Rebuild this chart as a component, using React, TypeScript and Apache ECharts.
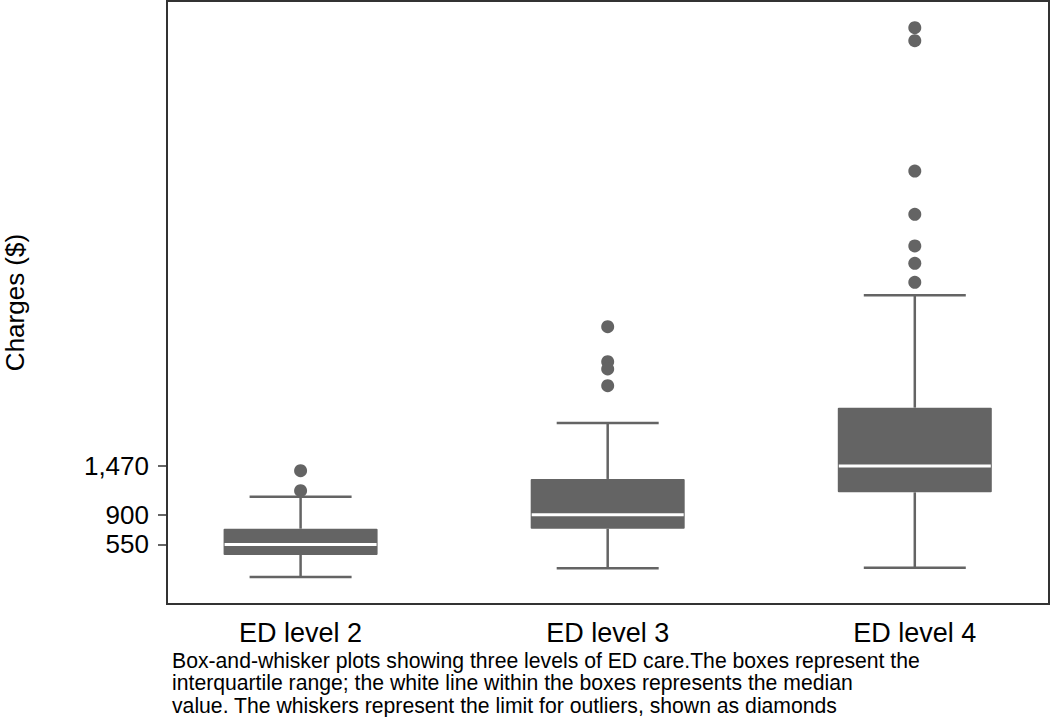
import React, { useEffect, useRef } from "react";
import * as echarts from "echarts";

const categories = ["ED level 2", "ED level 3", "ED level 4"];
const lowerWhisker = [168, 270, 277];
const q1 = [427, 735, 1162];
const median = [550, 900, 1470];
const q3 = [735, 1319, 2156];
const upperWhisker = [1111, 1976, 3475];
const outliers2 = [1416, 1181];
const outliers3 = [3106, 2695, 2610, 2414];
const outliers4 = [6617, 6464, 4934, 4426, 4054, 3851, 3628];
const yTickValues = [550, 900, 1470];
const yAxisTitle = "Charges ($)";
const captionLines = [
  "Box-and-whisker plots showing three levels of ED care.The boxes represent the",
  "interquartile range; the white line within the boxes represents the median",
  "value. The whiskers represent the limit for outliers, shown as diamonds",
];

const FONT = "'Liberation Sans', Arial, Helvetica, sans-serif";
const GRAY = "#646464";

export default function App() {
  const ref = useRef<HTMLDivElement>(null);

  useEffect(() => {
    if (!ref.current) return;
    const chart = echarts.init(ref.current, null, { renderer: "svg" });

    const boxData = categories.map((_, i) => [
      i,
      lowerWhisker[i],
      q1[i],
      median[i],
      q3[i],
      upperWhisker[i],
    ]);
    const outlierData: number[][] = [];
    [outliers2, outliers3, outliers4].forEach((arr, i) =>
      arr.forEach((v) => outlierData.push([i, v]))
    );

    const BOX_HALF = 77;
    const CAP_HALF = 51;

    const option: any = {
      animation: false,
      backgroundColor: "#ffffff",
      textStyle: { fontFamily: FONT },
      grid: {
        left: 167,
        right: 1,
        top: 1,
        bottom: 113,
        show: true,
        borderColor: "#333333",
        borderWidth: 2,
        backgroundColor: "transparent",
        containLabel: false,
        outerBoundsMode: "none",
      },
      xAxis: {
        type: "value",
        min: -0.435,
        max: 2.437,
        axisLine: { show: false, onZero: false },
        axisTick: { show: false },
        splitLine: { show: false },
        axisLabel: {
          customValues: [0, 1, 2],
          formatter: (v: number) => categories[Math.round(v)] ?? "",
          fontSize: 27,
          color: "#000",
          fontFamily: FONT,
          margin: 15,
        },
      },
      yAxis: {
        type: "value",
        min: -149,
        max: 6930,
        name: yAxisTitle,
        nameLocation: "middle",
        nameGap: 140,
        nameRotate: 90,
        nameTextStyle: { fontSize: 26, lineHeight: 24, color: "#000", fontFamily: FONT },
        axisLine: { show: false, onZero: false },
        splitLine: { show: false },
        axisTick: {
          show: true,
          customValues: yTickValues,
          length: 9,
          lineStyle: { color: "#333", width: 1.5 },
        },
        axisLabel: {
          customValues: yTickValues,
          formatter: (v: number) => v.toLocaleString("en-US"),
          fontSize: 26,
          color: "#000",
          fontFamily: FONT,
          margin: 18,
        },
      },
      series: [
        {
          type: "custom",
          data: boxData,
          encode: { x: 0, y: [1, 2, 3, 4, 5] },
          renderItem: (params: any, api: any) => {
            const x = api.value(0);
            const pLow = api.coord([x, api.value(1)]);
            const pQ1 = api.coord([x, api.value(2)]);
            const pMed = api.coord([x, api.value(3)]);
            const pQ3 = api.coord([x, api.value(4)]);
            const pHigh = api.coord([x, api.value(5)]);
            const cx = pLow[0];
            const lineStyle = { stroke: GRAY, lineWidth: 2.5 };
            return {
              type: "group",
              children: [
                {
                  type: "line",
                  shape: { x1: cx, y1: pLow[1], x2: cx, y2: pQ1[1] },
                  style: lineStyle,
                },
                {
                  type: "line",
                  shape: { x1: cx, y1: pQ3[1], x2: cx, y2: pHigh[1] },
                  style: lineStyle,
                },
                {
                  type: "line",
                  shape: { x1: cx - CAP_HALF, y1: pLow[1], x2: cx + CAP_HALF, y2: pLow[1] },
                  style: lineStyle,
                },
                {
                  type: "line",
                  shape: { x1: cx - CAP_HALF, y1: pHigh[1], x2: cx + CAP_HALF, y2: pHigh[1] },
                  style: lineStyle,
                },
                {
                  type: "rect",
                  shape: {
                    x: cx - BOX_HALF,
                    y: pQ3[1],
                    width: BOX_HALF * 2,
                    height: pQ1[1] - pQ3[1],
                    r: 1,
                  },
                  style: { fill: GRAY },
                },
                {
                  type: "line",
                  shape: { x1: cx - BOX_HALF + 1, y1: pMed[1], x2: cx + BOX_HALF - 1, y2: pMed[1] },
                  style: { stroke: "#ffffff", lineWidth: 3 },
                },
              ],
            };
          },
          z: 2,
        },
        {
          type: "scatter",
          data: outlierData,
          symbol: "circle",
          symbolSize: 13,
          itemStyle: { color: GRAY, opacity: 1 },
          z: 3,
        },
      ],
      graphic: [
        {
          type: "text",
          left: 172,
          top: 649,
          style: {
            text: captionLines.join("\n"),
            fontSize: 21.2,
            lineHeight: 22.5,
            fill: "#000",
            fontFamily: FONT,
          },
        },
      ],
    };

    chart.setOption(option);
    return () => chart.dispose();
  }, []);

  return (
    <div
      ref={ref}
      style={{ position: "absolute", left: 0, top: 0, width: 1050, height: 717 }}
    />
  );
}
